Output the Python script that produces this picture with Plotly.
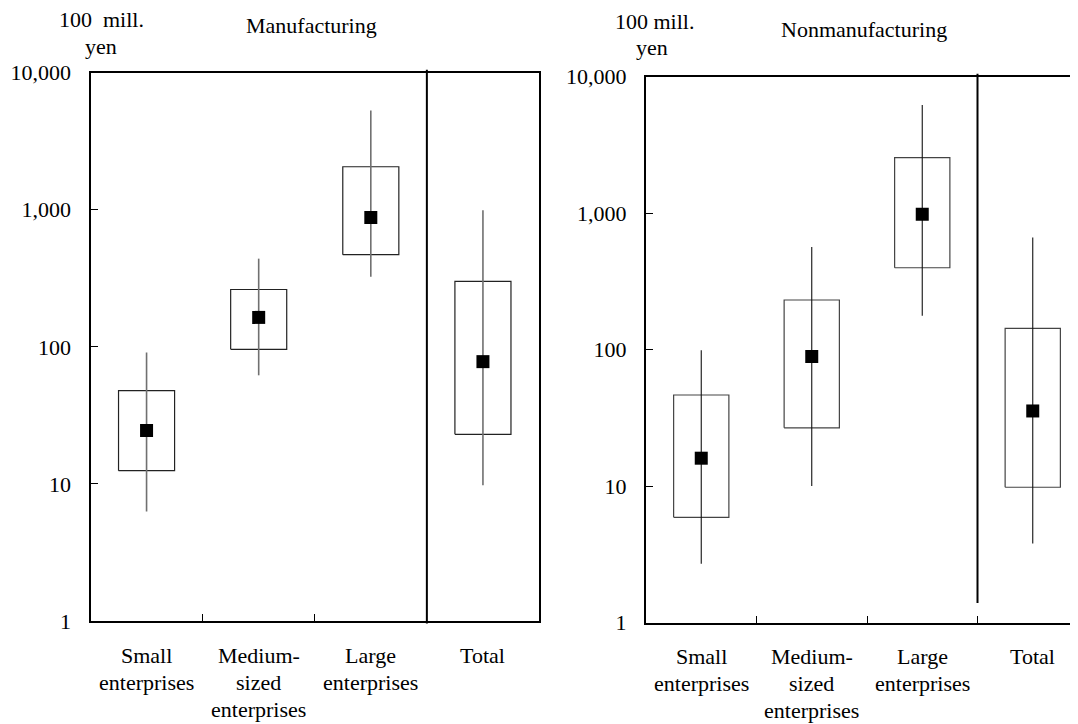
import plotly.graph_objects as go

W, H = 1078, 724
OFF = 8  # page body margin in the browser

categories = ["Small enterprises", "Medium-sized enterprises", "Large enterprises", "Total"]
cat_lines = [["Small", "enterprises"], ["Medium-", "sized", "enterprises"], ["Large", "enterprises"], ["Total"]]

y_tickvals = [1, 10, 100, 1000, 10000]
y_ticktext = ["1", "10", "100", "1,000", "10,000"]

# Manufacturing (100 mill. yen)
mfg_median = [24.5, 164, 880, 78]
mfg_q1 = [12.5, 96, 470, 23]
mfg_q3 = [48, 262, 2060, 300]
mfg_low = [6.3, 62, 325, 9.8]
mfg_high = [91, 440, 5300, 990]

# Nonmanufacturing (100 mill. yen)
non_median = [16, 89, 980, 35.5]
non_q1 = [5.9, 26.7, 398, 9.8]
non_q3 = [46.5, 231, 2550, 143]
non_low = [2.7, 10, 177, 3.8]
non_high = [99, 564, 6200, 664]

FONT = "Liberation Serif"
FS = 22


def px(x):
    return (x - OFF) / W


def py(y):
    return 1 - (y - OFF) / H


fig = go.Figure()

panels = [
    dict(xa="x", ya="y", med=mfg_median, q1=mfg_q1, q3=mfg_q3, lo=mfg_low, hi=mfg_high,
         whisk_col="#707070", whisk_w=1.6, box_col="#222222"),
    dict(xa="x2", ya="y2", med=non_median, q1=non_q1, q3=non_q3, lo=non_low, hi=non_high,
         whisk_col="#111111", whisk_w=1.1, box_col="#444444"),
]

half = 0.25
for p in panels:
    for i in range(len(categories)):
        fig.add_trace(go.Scatter(
            x=[i - half, i + half, i + half, i - half, i - half],
            y=[p["q1"][i], p["q1"][i], p["q3"][i], p["q3"][i], p["q1"][i]],
            mode="lines", line=dict(color=p["box_col"], width=1.2),
            xaxis=p["xa"], yaxis=p["ya"], showlegend=False, hoverinfo="skip"))
        fig.add_trace(go.Scatter(
            x=[i, i], y=[p["lo"][i], p["hi"][i]],
            mode="lines", line=dict(color=p["whisk_col"], width=p["whisk_w"]),
            xaxis=p["xa"], yaxis=p["ya"], showlegend=False, hoverinfo="skip"))
    fig.add_trace(go.Scatter(
        x=list(range(len(categories))), y=p["med"], mode="markers",
        marker=dict(symbol="square", size=13, color="black"),
        xaxis=p["xa"], yaxis=p["ya"], showlegend=False, text=categories))

# Geometry (screen pixels)
L_left, L_right, L_top, L_bot = 90.5, 539, 72.7, 621
R_left, R_top, R_bot = 646, 76.7, 622.5
R_cat = 110.5
R_right_paper = 1.0
R_span_px = W + OFF - R_left

axis_common = dict(showline=True, linecolor="black", linewidth=2, showgrid=False, zeroline=False,
                   automargin=False)
xcommon = dict(axis_common, tickmode="array", tickvals=[0.5, 1.5, 2.5], ticks="inside",
               ticklen=7, tickwidth=1, tickcolor="black", showticklabels=False)
ycommon = dict(axis_common, type="log", range=[0, 4], tickmode="array", tickvals=y_tickvals,
               ticktext=y_ticktext, ticks="inside", ticklen=7, tickwidth=1, tickcolor="black",
               tickfont=dict(family=FONT, size=FS, color="black"), ticklabelstandoff=13)

fig.update_layout(
    width=W, height=H, autosize=False,
    margin=dict(l=0, r=0, t=0, b=0, pad=0, autoexpand=False),
    paper_bgcolor="white", plot_bgcolor="white",
    xaxis=dict(xcommon, domain=[px(L_left), px(L_right)], range=[-0.5, 3.5], mirror=True, anchor="y"),
    yaxis=dict(ycommon, domain=[py(L_bot), py(L_top)], mirror=True, anchor="x"),
    xaxis2=dict(xcommon, domain=[px(R_left), R_right_paper],
                range=[-0.5, -0.5 + R_span_px / R_cat], mirror=True, anchor="y2"),
    yaxis2=dict(ycommon, domain=[py(R_bot), py(R_top)], anchor="x2"),
)

shapes = [
    dict(type="line", xref="x", yref="paper", x0=2.5, x1=2.5, y0=py(L_bot + 2.5), y1=py(L_top - 3),
         line=dict(color="black", width=2)),
    dict(type="line", xref="x2", yref="paper", x0=2.5, x1=2.5, y0=py(603), y1=py(R_top - 3),
         line=dict(color="black", width=2)),
]
fig.update_layout(shapes=shapes)

ann = []
tf = dict(family=FONT, size=FS, color="black")
for i, lines in enumerate(cat_lines):
    for j, t in enumerate(lines):
        ann.append(dict(text=t, xref="x", yref="paper", x=i, y=py(655 + 27 * j),
                        showarrow=False, xanchor="center", yanchor="middle", font=tf))
        ann.append(dict(text=t, xref="x2", yref="paper", x=i, y=py(656.5 + 27 * j),
                        showarrow=False, xanchor="center", yanchor="middle", font=tf))


def label(text, x, y):
    return dict(text=text, xref="paper", yref="paper", x=px(x), y=py(y), showarrow=False,
                xanchor="center", yanchor="middle", font=tf)


ann += [
    label("Manufacturing", 311, 26),
    label("Nonmanufacturing", 864, 29),
    label("100  mill.", 101, 20),
    label("yen", 101, 46),
    label("100 mill.", 654, 21),
    label("yen", 652, 48),
]
fig.update_layout(annotations=ann)

fig.write_html("out.html")
